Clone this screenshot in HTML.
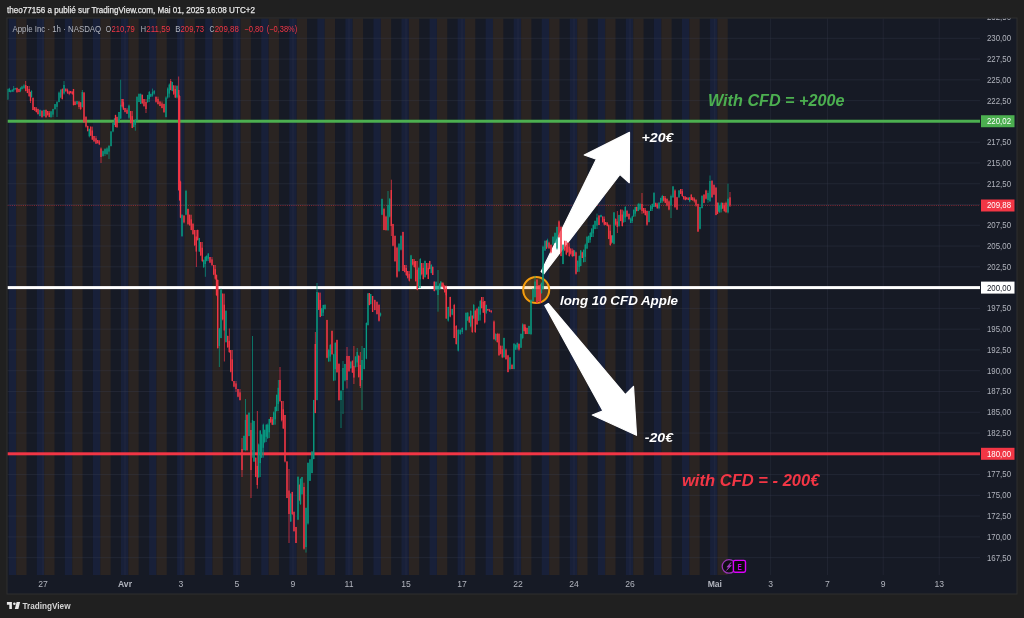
<!DOCTYPE html>
<html><head><meta charset="utf-8"><style>
html,body{margin:0;padding:0;background:#202020;width:1024px;height:618px;overflow:hidden}
svg{display:block}
text{font-family:"Liberation Sans",Arial,sans-serif}
.pa{font-size:8.6px;fill:#b2b5be}
.xa{font-size:8.6px;fill:#b2b5be}
.lg{font-size:8.8px}
.hd{font-size:8.6px;fill:#e6e6e6;stroke:#e6e6e6;stroke-width:0.25px}
.an{font-size:15.6px;font-weight:bold;font-style:italic}
.an2{font-size:12.8px;font-weight:bold;font-style:italic}
.tv{font-size:8.5px;fill:#d6d6d6;font-weight:bold}
.ic{font-size:9.6px;font-weight:bold}
</style></head><body>
<svg width="1024" height="618" viewBox="0 0 1024 618">
<rect width="1024" height="618" fill="#202020"/>
<text x="7" y="13.1" class="hd" textLength="248" lengthAdjust="spacingAndGlyphs">theo77156 a publié sur TradingView.com, Mai 01, 2025 16:08 UTC+2</text>
<rect x="7" y="18" width="1010" height="576" fill="#161a25"/><rect x="8.80" y="18.5" width="7.4" height="556.5" fill="#182039"/><rect x="16.20" y="18.5" width="10.3" height="556.5" fill="#2a2422"/><rect x="36.85" y="18.5" width="7.4" height="556.5" fill="#182039"/><rect x="44.25" y="18.5" width="10.3" height="556.5" fill="#2a2422"/><rect x="64.90" y="18.5" width="7.4" height="556.5" fill="#182039"/><rect x="72.30" y="18.5" width="10.3" height="556.5" fill="#2a2422"/><rect x="92.95" y="18.5" width="7.4" height="556.5" fill="#182039"/><rect x="100.35" y="18.5" width="10.3" height="556.5" fill="#2a2422"/><rect x="121.00" y="18.5" width="7.4" height="556.5" fill="#182039"/><rect x="128.40" y="18.5" width="10.3" height="556.5" fill="#2a2422"/><rect x="149.05" y="18.5" width="7.4" height="556.5" fill="#182039"/><rect x="156.45" y="18.5" width="10.3" height="556.5" fill="#2a2422"/><rect x="177.10" y="18.5" width="7.4" height="556.5" fill="#182039"/><rect x="184.50" y="18.5" width="10.3" height="556.5" fill="#2a2422"/><rect x="205.15" y="18.5" width="7.4" height="556.5" fill="#182039"/><rect x="212.55" y="18.5" width="10.3" height="556.5" fill="#2a2422"/><rect x="233.20" y="18.5" width="7.4" height="556.5" fill="#182039"/><rect x="240.60" y="18.5" width="10.3" height="556.5" fill="#2a2422"/><rect x="261.25" y="18.5" width="7.4" height="556.5" fill="#182039"/><rect x="268.65" y="18.5" width="10.3" height="556.5" fill="#2a2422"/><rect x="289.30" y="18.5" width="7.4" height="556.5" fill="#182039"/><rect x="296.70" y="18.5" width="10.3" height="556.5" fill="#2a2422"/><rect x="317.35" y="18.5" width="7.4" height="556.5" fill="#182039"/><rect x="324.75" y="18.5" width="10.3" height="556.5" fill="#2a2422"/><rect x="345.40" y="18.5" width="7.4" height="556.5" fill="#182039"/><rect x="352.80" y="18.5" width="10.3" height="556.5" fill="#2a2422"/><rect x="373.45" y="18.5" width="7.4" height="556.5" fill="#182039"/><rect x="380.85" y="18.5" width="10.3" height="556.5" fill="#2a2422"/><rect x="401.50" y="18.5" width="7.4" height="556.5" fill="#182039"/><rect x="408.90" y="18.5" width="10.3" height="556.5" fill="#2a2422"/><rect x="429.55" y="18.5" width="7.4" height="556.5" fill="#182039"/><rect x="436.95" y="18.5" width="10.3" height="556.5" fill="#2a2422"/><rect x="457.60" y="18.5" width="7.4" height="556.5" fill="#182039"/><rect x="465.00" y="18.5" width="10.3" height="556.5" fill="#2a2422"/><rect x="485.65" y="18.5" width="7.4" height="556.5" fill="#182039"/><rect x="493.05" y="18.5" width="10.3" height="556.5" fill="#2a2422"/><rect x="513.70" y="18.5" width="7.4" height="556.5" fill="#182039"/><rect x="521.10" y="18.5" width="10.3" height="556.5" fill="#2a2422"/><rect x="541.75" y="18.5" width="7.4" height="556.5" fill="#182039"/><rect x="549.15" y="18.5" width="10.3" height="556.5" fill="#2a2422"/><rect x="569.80" y="18.5" width="7.4" height="556.5" fill="#182039"/><rect x="577.20" y="18.5" width="10.3" height="556.5" fill="#2a2422"/><rect x="597.85" y="18.5" width="7.4" height="556.5" fill="#182039"/><rect x="605.25" y="18.5" width="10.3" height="556.5" fill="#2a2422"/><rect x="625.90" y="18.5" width="7.4" height="556.5" fill="#182039"/><rect x="633.30" y="18.5" width="10.3" height="556.5" fill="#2a2422"/><rect x="653.95" y="18.5" width="7.4" height="556.5" fill="#182039"/><rect x="661.35" y="18.5" width="10.3" height="556.5" fill="#2a2422"/><rect x="682.00" y="18.5" width="7.4" height="556.5" fill="#182039"/><rect x="689.40" y="18.5" width="10.3" height="556.5" fill="#2a2422"/><rect x="710.05" y="18.5" width="7.4" height="556.5" fill="#182039"/><rect x="717.45" y="18.5" width="10.3" height="556.5" fill="#2a2422"/><rect x="7.5" y="557.17" width="972.5" height="1" fill="rgba(60,66,84,0.32)"/><rect x="7.5" y="536.40" width="972.5" height="1" fill="rgba(60,66,84,0.32)"/><rect x="7.5" y="515.62" width="972.5" height="1" fill="rgba(60,66,84,0.32)"/><rect x="7.5" y="494.85" width="972.5" height="1" fill="rgba(60,66,84,0.32)"/><rect x="7.5" y="474.08" width="972.5" height="1" fill="rgba(60,66,84,0.32)"/><rect x="7.5" y="453.30" width="972.5" height="1" fill="rgba(60,66,84,0.32)"/><rect x="7.5" y="432.53" width="972.5" height="1" fill="rgba(60,66,84,0.32)"/><rect x="7.5" y="411.75" width="972.5" height="1" fill="rgba(60,66,84,0.32)"/><rect x="7.5" y="390.98" width="972.5" height="1" fill="rgba(60,66,84,0.32)"/><rect x="7.5" y="370.20" width="972.5" height="1" fill="rgba(60,66,84,0.32)"/><rect x="7.5" y="349.43" width="972.5" height="1" fill="rgba(60,66,84,0.32)"/><rect x="7.5" y="328.65" width="972.5" height="1" fill="rgba(60,66,84,0.32)"/><rect x="7.5" y="307.88" width="972.5" height="1" fill="rgba(60,66,84,0.32)"/><rect x="7.5" y="287.10" width="972.5" height="1" fill="rgba(60,66,84,0.32)"/><rect x="7.5" y="266.33" width="972.5" height="1" fill="rgba(60,66,84,0.32)"/><rect x="7.5" y="245.55" width="972.5" height="1" fill="rgba(60,66,84,0.32)"/><rect x="7.5" y="224.78" width="972.5" height="1" fill="rgba(60,66,84,0.32)"/><rect x="7.5" y="204.00" width="972.5" height="1" fill="rgba(60,66,84,0.32)"/><rect x="7.5" y="183.23" width="972.5" height="1" fill="rgba(60,66,84,0.32)"/><rect x="7.5" y="162.45" width="972.5" height="1" fill="rgba(60,66,84,0.32)"/><rect x="7.5" y="141.68" width="972.5" height="1" fill="rgba(60,66,84,0.32)"/><rect x="7.5" y="120.90" width="972.5" height="1" fill="rgba(60,66,84,0.32)"/><rect x="7.5" y="100.12" width="972.5" height="1" fill="rgba(60,66,84,0.32)"/><rect x="7.5" y="79.35" width="972.5" height="1" fill="rgba(60,66,84,0.32)"/><rect x="7.5" y="58.58" width="972.5" height="1" fill="rgba(60,66,84,0.32)"/><rect x="7.5" y="37.80" width="972.5" height="1" fill="rgba(60,66,84,0.32)"/><rect x="42.50" y="18.5" width="1" height="556.5" fill="rgba(60,66,84,0.32)" opacity="0.8"/><rect x="124.50" y="18.5" width="1" height="556.5" fill="rgba(60,66,84,0.32)" opacity="0.8"/><rect x="180.50" y="18.5" width="1" height="556.5" fill="rgba(60,66,84,0.32)" opacity="0.8"/><rect x="236.50" y="18.5" width="1" height="556.5" fill="rgba(60,66,84,0.32)" opacity="0.8"/><rect x="292.50" y="18.5" width="1" height="556.5" fill="rgba(60,66,84,0.32)" opacity="0.8"/><rect x="348.50" y="18.5" width="1" height="556.5" fill="rgba(60,66,84,0.32)" opacity="0.8"/><rect x="405.50" y="18.5" width="1" height="556.5" fill="rgba(60,66,84,0.32)" opacity="0.8"/><rect x="461.50" y="18.5" width="1" height="556.5" fill="rgba(60,66,84,0.32)" opacity="0.8"/><rect x="517.50" y="18.5" width="1" height="556.5" fill="rgba(60,66,84,0.32)" opacity="0.8"/><rect x="573.50" y="18.5" width="1" height="556.5" fill="rgba(60,66,84,0.32)" opacity="0.8"/><rect x="629.50" y="18.5" width="1" height="556.5" fill="rgba(60,66,84,0.32)" opacity="0.8"/><rect x="714.30" y="18.5" width="1" height="556.5" fill="rgba(60,66,84,0.32)" opacity="0.8"/><rect x="770.10" y="18.5" width="1" height="556.5" fill="rgba(60,66,84,0.32)" opacity="0.8"/><rect x="827.00" y="18.5" width="1" height="556.5" fill="rgba(60,66,84,0.32)" opacity="0.8"/><rect x="882.70" y="18.5" width="1" height="556.5" fill="rgba(60,66,84,0.32)" opacity="0.8"/><rect x="938.70" y="18.5" width="1" height="556.5" fill="rgba(60,66,84,0.32)" opacity="0.8"/><rect x="7.5" y="119.73" width="972.5" height="3" fill="#4caf50"/><rect x="7.5" y="286.10" width="972.5" height="3" fill="#ffffff"/><rect x="7.5" y="452.30" width="972.5" height="3" fill="#f23645"/><line x1="7.5" y1="205.50" x2="980" y2="205.50" stroke="#f23645" stroke-width="1" stroke-dasharray="1 1.2" opacity="0.5"/><circle cx="536.2" cy="290" r="13" fill="rgba(255,152,0,0.22)" stroke="#f59d0e" stroke-width="2"/><path d="M541.2 271.6 L596.3 159.2 L584.2 155 L629.5 132.4 L629.3 182.7 L620 174.5 L543.8 273.8 Z" fill="#fff" stroke="#fff" stroke-width="1.2" stroke-linejoin="round"/><path d="M544.8 305.5 L603 410.9 L592.3 415 L636.5 435.3 L633.5 386.3 L625.3 394.6 L548.3 303.5 Z" fill="#fff" stroke="#fff" stroke-width="1.2" stroke-linejoin="round"/><rect x="7.40" y="88.61" width="0.7" height="11.17" fill="#089981"/><rect x="7.08" y="89.00" width="1.35" height="10.60" fill="#089981"/><rect x="8.90" y="87.82" width="0.7" height="4.27" fill="#089981"/><rect x="8.57" y="88.60" width="1.35" height="3.40" fill="#089981"/><rect x="10.40" y="89.96" width="0.7" height="2.48" fill="#089981"/><rect x="10.07" y="90.60" width="1.35" height="1.40" fill="#089981"/><rect x="11.90" y="89.53" width="0.7" height="2.48" fill="#089981"/><rect x="11.57" y="89.60" width="1.35" height="1.80" fill="#089981"/><rect x="13.40" y="86.00" width="0.7" height="6.00" fill="#089981"/><rect x="13.07" y="88.60" width="1.35" height="1.80" fill="#089981"/><rect x="14.90" y="87.92" width="0.7" height="1.59" fill="#089981"/><rect x="14.57" y="88.00" width="1.35" height="1.40" fill="#089981"/><rect x="16.65" y="87.49" width="0.7" height="5.50" fill="#f23645"/><rect x="16.32" y="88.00" width="1.35" height="4.00" fill="#f23645"/><rect x="18.65" y="88.85" width="0.7" height="3.42" fill="#f23645"/><rect x="18.32" y="89.00" width="1.35" height="3.00" fill="#f23645"/><rect x="20.15" y="87.25" width="0.7" height="4.89" fill="#089981"/><rect x="19.82" y="88.00" width="1.35" height="3.00" fill="#089981"/><rect x="21.65" y="85.79" width="0.7" height="3.69" fill="#089981"/><rect x="21.32" y="86.48" width="1.35" height="2.52" fill="#089981"/><rect x="23.65" y="84.23" width="0.7" height="4.77" fill="#089981"/><rect x="23.32" y="85.40" width="1.35" height="2.52" fill="#089981"/><rect x="25.40" y="81.00" width="0.7" height="10.35" fill="#f23645"/><rect x="25.07" y="85.00" width="1.35" height="6.00" fill="#f23645"/><rect x="27.02" y="86.00" width="0.7" height="7.14" fill="#f23645"/><rect x="26.70" y="86.00" width="1.35" height="7.00" fill="#f23645"/><rect x="28.77" y="86.00" width="0.7" height="10.98" fill="#f23645"/><rect x="28.45" y="89.00" width="1.35" height="7.00" fill="#f23645"/><rect x="30.15" y="91.78" width="0.7" height="11.22" fill="#f23645"/><rect x="29.82" y="92.00" width="1.35" height="9.00" fill="#f23645"/><rect x="31.15" y="90.23" width="0.7" height="7.21" fill="#089981"/><rect x="30.82" y="91.00" width="1.35" height="6.00" fill="#089981"/><rect x="32.65" y="97.34" width="0.7" height="12.73" fill="#f23645"/><rect x="32.33" y="98.00" width="1.35" height="12.00" fill="#f23645"/><rect x="34.40" y="107.00" width="0.7" height="3.75" fill="#f23645"/><rect x="34.08" y="107.00" width="1.35" height="3.50" fill="#f23645"/><rect x="35.90" y="107.00" width="0.7" height="5.51" fill="#f23645"/><rect x="35.58" y="108.50" width="1.35" height="3.50" fill="#f23645"/><rect x="37.65" y="108.62" width="0.7" height="6.08" fill="#f23645"/><rect x="37.33" y="109.00" width="1.35" height="5.00" fill="#f23645"/><rect x="39.65" y="109.46" width="0.7" height="6.90" fill="#089981"/><rect x="39.33" y="110.00" width="1.35" height="6.00" fill="#089981"/><rect x="41.65" y="110.05" width="0.7" height="7.79" fill="#f23645"/><rect x="41.33" y="111.00" width="1.35" height="6.00" fill="#f23645"/><rect x="43.65" y="109.71" width="0.7" height="6.98" fill="#089981"/><rect x="43.33" y="110.00" width="1.35" height="6.00" fill="#089981"/><rect x="45.65" y="109.37" width="0.7" height="8.68" fill="#f23645"/><rect x="45.33" y="110.00" width="1.35" height="7.00" fill="#f23645"/><rect x="47.40" y="111.00" width="0.7" height="4.55" fill="#f23645"/><rect x="47.08" y="111.00" width="1.35" height="4.20" fill="#f23645"/><rect x="48.90" y="111.00" width="0.7" height="6.14" fill="#f23645"/><rect x="48.58" y="112.80" width="1.35" height="4.20" fill="#f23645"/><rect x="50.65" y="110.90" width="0.7" height="7.01" fill="#089981"/><rect x="50.33" y="111.40" width="1.35" height="5.60" fill="#089981"/><rect x="52.65" y="108.82" width="0.7" height="8.18" fill="#089981"/><rect x="52.33" y="109.00" width="1.35" height="5.60" fill="#089981"/><rect x="54.65" y="104.05" width="0.7" height="5.75" fill="#089981"/><rect x="54.33" y="104.10" width="1.35" height="4.90" fill="#089981"/><rect x="56.65" y="101.08" width="0.7" height="15.92" fill="#089981"/><rect x="56.33" y="102.00" width="1.35" height="4.90" fill="#089981"/><rect x="58.65" y="91.55" width="0.7" height="10.83" fill="#089981"/><rect x="58.33" y="92.60" width="1.35" height="9.40" fill="#089981"/><rect x="60.40" y="89.17" width="0.7" height="9.05" fill="#089981"/><rect x="60.08" y="90.00" width="1.35" height="7.50" fill="#089981"/><rect x="61.90" y="88.30" width="0.7" height="11.24" fill="#f23645"/><rect x="61.58" y="89.00" width="1.35" height="10.00" fill="#f23645"/><rect x="63.65" y="81.00" width="0.7" height="13.63" fill="#089981"/><rect x="63.33" y="85.00" width="1.35" height="8.50" fill="#089981"/><rect x="65.48" y="88.60" width="0.7" height="3.32" fill="#f23645"/><rect x="65.16" y="88.60" width="1.35" height="2.52" fill="#f23645"/><rect x="67.15" y="88.60" width="0.7" height="5.40" fill="#f23645"/><rect x="66.83" y="89.68" width="1.35" height="3.24" fill="#f23645"/><rect x="68.82" y="90.70" width="0.7" height="4.49" fill="#f23645"/><rect x="68.49" y="91.48" width="1.35" height="2.52" fill="#f23645"/><rect x="70.40" y="91.00" width="0.7" height="2.44" fill="#f23645"/><rect x="70.08" y="91.00" width="1.35" height="2.10" fill="#f23645"/><rect x="71.90" y="91.00" width="0.7" height="3.80" fill="#f23645"/><rect x="71.58" y="91.90" width="1.35" height="2.10" fill="#f23645"/><rect x="73.15" y="88.97" width="0.7" height="16.58" fill="#f23645"/><rect x="72.83" y="89.00" width="1.35" height="16.00" fill="#f23645"/><rect x="74.65" y="101.30" width="0.7" height="3.84" fill="#f23645"/><rect x="74.33" y="101.50" width="1.35" height="3.50" fill="#f23645"/><rect x="76.65" y="100.93" width="0.7" height="3.99" fill="#089981"/><rect x="76.33" y="101.00" width="1.35" height="3.00" fill="#089981"/><rect x="78.65" y="101.34" width="0.7" height="7.66" fill="#f23645"/><rect x="78.33" y="101.50" width="1.35" height="5.50" fill="#f23645"/><rect x="80.40" y="101.93" width="0.7" height="8.11" fill="#f23645"/><rect x="80.08" y="102.40" width="1.35" height="6.60" fill="#f23645"/><rect x="81.90" y="90.00" width="0.7" height="17.54" fill="#089981"/><rect x="81.58" y="92.00" width="1.35" height="15.00" fill="#089981"/><rect x="83.65" y="91.94" width="0.7" height="31.12" fill="#f23645"/><rect x="83.33" y="92.60" width="1.35" height="29.40" fill="#f23645"/><rect x="85.65" y="116.02" width="0.7" height="11.62" fill="#f23645"/><rect x="85.33" y="117.00" width="1.35" height="9.60" fill="#f23645"/><rect x="87.40" y="125.67" width="0.7" height="5.83" fill="#f23645"/><rect x="87.08" y="126.00" width="1.35" height="5.00" fill="#f23645"/><rect x="88.90" y="128.57" width="0.7" height="8.79" fill="#089981"/><rect x="88.58" y="129.00" width="1.35" height="7.30" fill="#089981"/><rect x="90.40" y="126.60" width="0.7" height="9.28" fill="#f23645"/><rect x="90.08" y="126.60" width="1.35" height="9.10" fill="#f23645"/><rect x="91.90" y="126.60" width="0.7" height="13.28" fill="#f23645"/><rect x="91.58" y="130.50" width="1.35" height="9.10" fill="#f23645"/><rect x="93.65" y="136.00" width="0.7" height="5.90" fill="#f23645"/><rect x="93.33" y="136.00" width="1.35" height="5.32" fill="#f23645"/><rect x="95.65" y="136.00" width="0.7" height="7.92" fill="#f23645"/><rect x="95.33" y="138.28" width="1.35" height="5.32" fill="#f23645"/><rect x="97.40" y="140.00" width="0.7" height="3.58" fill="#f23645"/><rect x="97.08" y="140.00" width="1.35" height="3.08" fill="#f23645"/><rect x="98.90" y="140.00" width="0.7" height="5.08" fill="#f23645"/><rect x="98.58" y="141.32" width="1.35" height="3.08" fill="#f23645"/><rect x="100.65" y="147.36" width="0.7" height="15.64" fill="#f23645"/><rect x="100.33" y="148.50" width="1.35" height="8.50" fill="#f23645"/><rect x="102.65" y="150.48" width="0.7" height="6.26" fill="#089981"/><rect x="102.33" y="151.10" width="1.35" height="4.90" fill="#089981"/><rect x="104.65" y="148.19" width="0.7" height="7.81" fill="#089981"/><rect x="104.33" y="149.00" width="1.35" height="4.90" fill="#089981"/><rect x="106.65" y="147.32" width="0.7" height="7.62" fill="#089981"/><rect x="106.33" y="148.40" width="1.35" height="5.60" fill="#089981"/><rect x="108.65" y="144.95" width="0.7" height="14.05" fill="#089981"/><rect x="108.33" y="146.00" width="1.35" height="5.60" fill="#089981"/><rect x="110.65" y="131.03" width="0.7" height="15.45" fill="#089981"/><rect x="110.33" y="131.50" width="1.35" height="14.50" fill="#089981"/><rect x="112.65" y="122.88" width="0.7" height="9.39" fill="#089981"/><rect x="112.33" y="123.00" width="1.35" height="8.50" fill="#089981"/><rect x="114.15" y="118.43" width="0.7" height="6.66" fill="#089981"/><rect x="113.83" y="118.50" width="1.35" height="6.50" fill="#089981"/><rect x="115.15" y="114.75" width="0.7" height="12.45" fill="#f23645"/><rect x="114.83" y="115.00" width="1.35" height="12.00" fill="#f23645"/><rect x="116.65" y="116.59" width="0.7" height="10.87" fill="#f23645"/><rect x="116.33" y="117.00" width="1.35" height="10.40" fill="#f23645"/><rect x="118.65" y="112.00" width="0.7" height="10.18" fill="#089981"/><rect x="118.33" y="112.00" width="1.35" height="10.00" fill="#089981"/><rect x="120.40" y="79.70" width="0.7" height="39.24" fill="#089981"/><rect x="120.08" y="104.80" width="1.35" height="13.70" fill="#089981"/><rect x="121.78" y="99.00" width="0.7" height="8.47" fill="#f23645"/><rect x="121.45" y="99.00" width="1.35" height="7.42" fill="#f23645"/><rect x="123.03" y="99.00" width="0.7" height="10.78" fill="#f23645"/><rect x="122.70" y="102.18" width="1.35" height="7.42" fill="#f23645"/><rect x="124.65" y="108.00" width="0.7" height="4.41" fill="#f23645"/><rect x="124.33" y="108.00" width="1.35" height="3.99" fill="#f23645"/><rect x="126.65" y="108.00" width="0.7" height="5.85" fill="#f23645"/><rect x="126.33" y="109.71" width="1.35" height="3.99" fill="#f23645"/><rect x="128.65" y="104.58" width="0.7" height="14.31" fill="#089981"/><rect x="128.32" y="105.60" width="1.35" height="12.10" fill="#089981"/><rect x="130.40" y="111.00" width="0.7" height="12.48" fill="#f23645"/><rect x="130.07" y="111.00" width="1.35" height="11.90" fill="#f23645"/><rect x="131.90" y="111.00" width="0.7" height="17.12" fill="#f23645"/><rect x="131.57" y="116.10" width="1.35" height="11.90" fill="#f23645"/><rect x="133.40" y="121.69" width="0.7" height="5.63" fill="#089981"/><rect x="133.07" y="122.10" width="1.35" height="4.90" fill="#089981"/><rect x="134.90" y="119.01" width="0.7" height="11.69" fill="#089981"/><rect x="134.57" y="120.00" width="1.35" height="4.90" fill="#089981"/><rect x="136.65" y="96.67" width="0.7" height="24.47" fill="#089981"/><rect x="136.32" y="96.70" width="1.35" height="23.30" fill="#089981"/><rect x="138.65" y="93.37" width="0.7" height="8.81" fill="#089981"/><rect x="138.32" y="94.00" width="1.35" height="8.00" fill="#089981"/><rect x="140.40" y="93.35" width="0.7" height="10.68" fill="#089981"/><rect x="140.07" y="94.00" width="1.35" height="10.00" fill="#089981"/><rect x="141.90" y="94.37" width="0.7" height="9.81" fill="#f23645"/><rect x="141.57" y="95.00" width="1.35" height="8.00" fill="#f23645"/><rect x="143.65" y="99.00" width="0.7" height="7.84" fill="#f23645"/><rect x="143.32" y="99.00" width="1.35" height="7.00" fill="#f23645"/><rect x="145.65" y="99.00" width="0.7" height="14.00" fill="#f23645"/><rect x="145.32" y="102.00" width="1.35" height="7.00" fill="#f23645"/><rect x="147.40" y="94.80" width="0.7" height="8.13" fill="#089981"/><rect x="147.07" y="95.00" width="1.35" height="7.00" fill="#089981"/><rect x="148.90" y="91.00" width="0.7" height="11.00" fill="#089981"/><rect x="148.57" y="92.00" width="1.35" height="7.00" fill="#089981"/><rect x="150.48" y="93.64" width="0.7" height="3.32" fill="#089981"/><rect x="150.16" y="94.04" width="1.35" height="2.66" fill="#089981"/><rect x="152.15" y="88.60" width="0.7" height="8.14" fill="#089981"/><rect x="151.82" y="92.14" width="1.35" height="3.42" fill="#089981"/><rect x="153.82" y="89.98" width="0.7" height="4.65" fill="#089981"/><rect x="153.49" y="91.00" width="1.35" height="2.66" fill="#089981"/><rect x="155.65" y="96.70" width="0.7" height="6.00" fill="#f23645"/><rect x="155.32" y="96.70" width="1.35" height="5.11" fill="#f23645"/><rect x="157.65" y="96.70" width="0.7" height="7.92" fill="#f23645"/><rect x="157.32" y="98.89" width="1.35" height="5.11" fill="#f23645"/><rect x="159.65" y="101.50" width="0.7" height="4.58" fill="#f23645"/><rect x="159.32" y="101.50" width="1.35" height="4.55" fill="#f23645"/><rect x="161.65" y="101.50" width="0.7" height="6.84" fill="#f23645"/><rect x="161.32" y="103.45" width="1.35" height="4.55" fill="#f23645"/><rect x="163.65" y="103.69" width="0.7" height="9.31" fill="#f23645"/><rect x="163.32" y="104.00" width="1.35" height="8.00" fill="#f23645"/><rect x="165.65" y="96.35" width="0.7" height="21.18" fill="#089981"/><rect x="165.32" y="97.50" width="1.35" height="19.50" fill="#089981"/><rect x="167.40" y="87.35" width="0.7" height="11.34" fill="#089981"/><rect x="167.07" y="88.47" width="1.35" height="9.03" fill="#089981"/><rect x="168.90" y="83.45" width="0.7" height="14.05" fill="#089981"/><rect x="168.57" y="84.60" width="1.35" height="9.03" fill="#089981"/><rect x="170.40" y="79.00" width="0.7" height="11.27" fill="#f23645"/><rect x="170.07" y="81.00" width="1.35" height="9.00" fill="#f23645"/><rect x="171.90" y="81.76" width="0.7" height="9.48" fill="#089981"/><rect x="171.57" y="82.00" width="1.35" height="9.00" fill="#089981"/><rect x="173.40" y="85.40" width="0.7" height="9.55" fill="#f23645"/><rect x="173.07" y="85.40" width="1.35" height="8.47" fill="#f23645"/><rect x="174.90" y="85.40" width="0.7" height="12.68" fill="#f23645"/><rect x="174.57" y="89.03" width="1.35" height="8.47" fill="#f23645"/><rect x="176.65" y="85.22" width="0.7" height="13.24" fill="#089981"/><rect x="176.32" y="86.00" width="1.35" height="11.50" fill="#089981"/><rect x="178.40" y="76.50" width="0.7" height="114.29" fill="#f23645"/><rect x="178.07" y="90.00" width="1.35" height="100.00" fill="#f23645"/><rect x="179.30" y="94.91" width="0.7" height="106.03" fill="#f23645"/><rect x="178.97" y="96.00" width="1.35" height="104.00" fill="#f23645"/><rect x="180.15" y="180.70" width="0.7" height="37.47" fill="#f23645"/><rect x="179.82" y="181.60" width="1.35" height="36.00" fill="#f23645"/><rect x="181.65" y="214.49" width="0.7" height="22.46" fill="#089981"/><rect x="181.32" y="214.70" width="1.35" height="21.30" fill="#089981"/><rect x="183.65" y="215.20" width="0.7" height="8.16" fill="#f23645"/><rect x="183.32" y="215.60" width="1.35" height="6.80" fill="#f23645"/><rect x="185.65" y="189.83" width="0.7" height="25.34" fill="#089981"/><rect x="185.32" y="191.00" width="1.35" height="23.70" fill="#089981"/><rect x="187.65" y="208.52" width="0.7" height="16.62" fill="#f23645"/><rect x="187.32" y="209.00" width="1.35" height="15.00" fill="#f23645"/><rect x="189.40" y="214.70" width="0.7" height="10.91" fill="#f23645"/><rect x="189.07" y="214.70" width="1.35" height="10.71" fill="#f23645"/><rect x="190.90" y="214.70" width="0.7" height="15.48" fill="#f23645"/><rect x="190.57" y="219.29" width="1.35" height="10.71" fill="#f23645"/><rect x="192.65" y="222.91" width="0.7" height="12.05" fill="#f23645"/><rect x="192.32" y="224.00" width="1.35" height="10.00" fill="#f23645"/><rect x="194.40" y="230.00" width="0.7" height="16.11" fill="#f23645"/><rect x="194.07" y="230.00" width="1.35" height="15.12" fill="#f23645"/><rect x="195.90" y="230.00" width="0.7" height="37.00" fill="#f23645"/><rect x="195.57" y="236.48" width="1.35" height="15.12" fill="#f23645"/><rect x="197.40" y="229.58" width="0.7" height="11.08" fill="#f23645"/><rect x="197.07" y="230.00" width="1.35" height="10.00" fill="#f23645"/><rect x="198.90" y="237.84" width="0.7" height="13.77" fill="#089981"/><rect x="198.57" y="238.00" width="1.35" height="13.60" fill="#089981"/><rect x="200.40" y="242.00" width="0.7" height="14.08" fill="#f23645"/><rect x="200.07" y="242.00" width="1.35" height="13.30" fill="#f23645"/><rect x="201.90" y="242.00" width="0.7" height="20.12" fill="#f23645"/><rect x="201.57" y="247.70" width="1.35" height="13.30" fill="#f23645"/><rect x="203.40" y="259.48" width="0.7" height="8.57" fill="#089981"/><rect x="203.07" y="260.00" width="1.35" height="7.00" fill="#089981"/><rect x="204.90" y="256.01" width="0.7" height="20.79" fill="#089981"/><rect x="204.57" y="257.00" width="1.35" height="7.00" fill="#089981"/><rect x="206.40" y="255.45" width="0.7" height="5.90" fill="#089981"/><rect x="206.07" y="255.75" width="1.35" height="5.25" fill="#089981"/><rect x="207.90" y="253.21" width="0.7" height="7.79" fill="#089981"/><rect x="207.57" y="253.50" width="1.35" height="5.25" fill="#089981"/><rect x="209.65" y="257.00" width="0.7" height="6.10" fill="#f23645"/><rect x="209.32" y="257.00" width="1.35" height="5.60" fill="#f23645"/><rect x="211.65" y="257.00" width="0.7" height="9.09" fill="#f23645"/><rect x="211.32" y="259.40" width="1.35" height="5.60" fill="#f23645"/><rect x="213.40" y="265.00" width="0.7" height="10.14" fill="#f23645"/><rect x="213.07" y="265.00" width="1.35" height="9.59" fill="#f23645"/><rect x="214.90" y="265.00" width="0.7" height="14.79" fill="#f23645"/><rect x="214.57" y="269.11" width="1.35" height="9.59" fill="#f23645"/><rect x="216.15" y="274.50" width="0.7" height="21.61" fill="#f23645"/><rect x="215.82" y="275.00" width="1.35" height="20.00" fill="#f23645"/><rect x="217.40" y="279.40" width="0.7" height="69.24" fill="#f23645"/><rect x="217.07" y="280.00" width="1.35" height="68.00" fill="#f23645"/><rect x="218.90" y="327.87" width="0.7" height="39.13" fill="#089981"/><rect x="218.57" y="328.50" width="1.35" height="17.50" fill="#089981"/><rect x="220.65" y="288.70" width="0.7" height="49.52" fill="#089981"/><rect x="220.32" y="289.70" width="1.35" height="48.30" fill="#089981"/><rect x="222.40" y="293.60" width="0.7" height="26.79" fill="#f23645"/><rect x="222.07" y="293.60" width="1.35" height="25.83" fill="#f23645"/><rect x="223.90" y="293.60" width="0.7" height="67.90" fill="#f23645"/><rect x="223.57" y="304.67" width="1.35" height="25.83" fill="#f23645"/><rect x="225.65" y="310.13" width="0.7" height="32.54" fill="#089981"/><rect x="225.32" y="311.00" width="1.35" height="31.00" fill="#089981"/><rect x="227.40" y="335.61" width="0.7" height="12.21" fill="#f23645"/><rect x="227.07" y="336.00" width="1.35" height="11.20" fill="#f23645"/><rect x="228.90" y="328.50" width="0.7" height="24.44" fill="#f23645"/><rect x="228.57" y="340.80" width="1.35" height="11.20" fill="#f23645"/><rect x="230.40" y="350.00" width="0.7" height="22.37" fill="#f23645"/><rect x="230.07" y="350.00" width="1.35" height="21.70" fill="#f23645"/><rect x="231.90" y="350.00" width="0.7" height="31.33" fill="#f23645"/><rect x="231.57" y="359.30" width="1.35" height="21.70" fill="#f23645"/><rect x="233.65" y="381.00" width="0.7" height="6.21" fill="#f23645"/><rect x="233.32" y="381.00" width="1.35" height="5.60" fill="#f23645"/><rect x="235.65" y="381.00" width="0.7" height="11.00" fill="#f23645"/><rect x="235.32" y="383.40" width="1.35" height="5.60" fill="#f23645"/><rect x="237.65" y="389.00" width="0.7" height="8.23" fill="#f23645"/><rect x="237.32" y="389.00" width="1.35" height="7.70" fill="#f23645"/><rect x="239.65" y="389.00" width="0.7" height="11.61" fill="#f23645"/><rect x="239.32" y="392.30" width="1.35" height="7.70" fill="#f23645"/><rect x="241.65" y="438.00" width="0.7" height="39.00" fill="#f23645"/><rect x="241.32" y="449.00" width="1.35" height="21.00" fill="#f23645"/><rect x="243.65" y="435.46" width="0.7" height="15.18" fill="#089981"/><rect x="243.32" y="436.00" width="1.35" height="14.00" fill="#089981"/><rect x="245.15" y="399.00" width="0.7" height="52.13" fill="#089981"/><rect x="244.82" y="420.00" width="1.35" height="30.00" fill="#089981"/><rect x="246.65" y="414.16" width="0.7" height="36.89" fill="#f23645"/><rect x="246.32" y="415.00" width="1.35" height="35.00" fill="#f23645"/><rect x="248.65" y="411.87" width="0.7" height="24.44" fill="#089981"/><rect x="248.32" y="413.00" width="1.35" height="23.00" fill="#089981"/><rect x="250.65" y="422.70" width="0.7" height="75.30" fill="#f23645"/><rect x="250.32" y="430.00" width="1.35" height="40.00" fill="#f23645"/><rect x="252.15" y="336.00" width="0.7" height="121.70" fill="#089981"/><rect x="251.82" y="420.00" width="1.35" height="30.00" fill="#089981"/><rect x="253.65" y="420.85" width="0.7" height="41.18" fill="#089981"/><rect x="253.32" y="421.00" width="1.35" height="40.50" fill="#089981"/><rect x="255.40" y="457.61" width="0.7" height="19.49" fill="#f23645"/><rect x="255.07" y="457.70" width="1.35" height="19.11" fill="#f23645"/><rect x="256.90" y="411.00" width="0.7" height="77.70" fill="#f23645"/><rect x="256.57" y="465.89" width="1.35" height="19.11" fill="#f23645"/><rect x="258.40" y="443.51" width="0.7" height="34.57" fill="#089981"/><rect x="258.07" y="444.45" width="1.35" height="32.55" fill="#089981"/><rect x="259.90" y="430.31" width="0.7" height="46.69" fill="#089981"/><rect x="259.57" y="430.50" width="1.35" height="32.55" fill="#089981"/><rect x="261.40" y="433.81" width="0.7" height="24.06" fill="#089981"/><rect x="261.07" y="434.60" width="1.35" height="23.10" fill="#089981"/><rect x="262.90" y="423.64" width="0.7" height="34.06" fill="#089981"/><rect x="262.57" y="424.70" width="1.35" height="23.10" fill="#089981"/><rect x="264.40" y="429.63" width="0.7" height="13.52" fill="#089981"/><rect x="264.07" y="429.89" width="1.35" height="12.11" fill="#089981"/><rect x="265.90" y="424.22" width="0.7" height="17.78" fill="#089981"/><rect x="265.57" y="424.70" width="1.35" height="12.11" fill="#089981"/><rect x="267.40" y="423.51" width="0.7" height="15.49" fill="#089981"/><rect x="267.07" y="424.70" width="1.35" height="13.30" fill="#089981"/><rect x="268.90" y="418.81" width="0.7" height="19.19" fill="#089981"/><rect x="268.57" y="419.00" width="1.35" height="13.30" fill="#089981"/><rect x="270.40" y="417.00" width="0.7" height="5.80" fill="#f23645"/><rect x="270.07" y="417.00" width="1.35" height="5.39" fill="#f23645"/><rect x="271.90" y="417.00" width="0.7" height="8.08" fill="#f23645"/><rect x="271.57" y="419.31" width="1.35" height="5.39" fill="#f23645"/><rect x="273.40" y="411.44" width="0.7" height="13.28" fill="#089981"/><rect x="273.07" y="412.31" width="1.35" height="12.39" fill="#089981"/><rect x="274.90" y="406.34" width="0.7" height="18.36" fill="#089981"/><rect x="274.57" y="407.00" width="1.35" height="12.39" fill="#089981"/><rect x="276.40" y="394.74" width="0.7" height="16.66" fill="#089981"/><rect x="276.07" y="394.76" width="1.35" height="16.24" fill="#089981"/><rect x="277.90" y="380.00" width="0.7" height="31.00" fill="#089981"/><rect x="277.57" y="387.80" width="1.35" height="16.24" fill="#089981"/><rect x="279.65" y="367.00" width="0.7" height="35.18" fill="#f23645"/><rect x="279.32" y="380.00" width="1.35" height="21.00" fill="#f23645"/><rect x="281.40" y="401.00" width="0.7" height="20.42" fill="#f23645"/><rect x="281.07" y="401.00" width="1.35" height="19.25" fill="#f23645"/><rect x="282.90" y="401.00" width="0.7" height="27.82" fill="#f23645"/><rect x="282.57" y="409.25" width="1.35" height="19.25" fill="#f23645"/><rect x="284.65" y="414.95" width="0.7" height="47.48" fill="#f23645"/><rect x="284.32" y="415.00" width="1.35" height="46.50" fill="#f23645"/><rect x="286.65" y="461.18" width="0.7" height="36.98" fill="#f23645"/><rect x="286.32" y="461.50" width="1.35" height="36.50" fill="#f23645"/><rect x="288.65" y="469.00" width="0.7" height="74.00" fill="#f23645"/><rect x="288.32" y="490.50" width="1.35" height="23.50" fill="#f23645"/><rect x="290.40" y="493.02" width="0.7" height="28.79" fill="#089981"/><rect x="290.07" y="494.00" width="1.35" height="27.50" fill="#089981"/><rect x="291.90" y="491.82" width="0.7" height="23.28" fill="#f23645"/><rect x="291.57" y="492.00" width="1.35" height="22.00" fill="#f23645"/><rect x="293.65" y="511.32" width="0.7" height="20.53" fill="#f23645"/><rect x="293.32" y="512.00" width="1.35" height="19.00" fill="#f23645"/><rect x="295.65" y="526.89" width="0.7" height="16.18" fill="#f23645"/><rect x="295.32" y="527.00" width="1.35" height="16.00" fill="#f23645"/><rect x="297.65" y="476.17" width="0.7" height="43.94" fill="#089981"/><rect x="297.32" y="477.00" width="1.35" height="42.60" fill="#089981"/><rect x="299.15" y="484.61" width="0.7" height="16.51" fill="#f23645"/><rect x="298.82" y="484.70" width="1.35" height="15.30" fill="#f23645"/><rect x="300.15" y="478.24" width="0.7" height="26.72" fill="#089981"/><rect x="299.82" y="479.00" width="1.35" height="25.00" fill="#089981"/><rect x="301.65" y="476.90" width="0.7" height="18.13" fill="#089981"/><rect x="301.32" y="477.00" width="1.35" height="17.00" fill="#089981"/><rect x="303.65" y="482.70" width="0.7" height="67.04" fill="#f23645"/><rect x="303.32" y="487.00" width="1.35" height="61.70" fill="#f23645"/><rect x="305.65" y="507.46" width="0.7" height="45.14" fill="#089981"/><rect x="305.32" y="508.00" width="1.35" height="39.00" fill="#089981"/><rect x="307.65" y="462.34" width="0.7" height="62.28" fill="#089981"/><rect x="307.32" y="463.00" width="1.35" height="60.50" fill="#089981"/><rect x="309.65" y="459.08" width="0.7" height="21.88" fill="#089981"/><rect x="309.32" y="459.40" width="1.35" height="21.40" fill="#089981"/><rect x="311.65" y="450.97" width="0.7" height="22.32" fill="#089981"/><rect x="311.32" y="451.60" width="1.35" height="21.40" fill="#089981"/><rect x="313.40" y="399.87" width="0.7" height="59.33" fill="#089981"/><rect x="313.07" y="400.00" width="1.35" height="59.00" fill="#089981"/><rect x="314.90" y="332.00" width="0.7" height="81.24" fill="#f23645"/><rect x="314.57" y="344.00" width="1.35" height="69.00" fill="#f23645"/><rect x="316.65" y="283.00" width="0.7" height="117.37" fill="#089981"/><rect x="316.32" y="292.00" width="1.35" height="108.00" fill="#089981"/><rect x="318.40" y="292.60" width="0.7" height="17.43" fill="#f23645"/><rect x="318.07" y="292.60" width="1.35" height="17.08" fill="#f23645"/><rect x="319.90" y="292.60" width="0.7" height="24.61" fill="#f23645"/><rect x="319.57" y="299.92" width="1.35" height="17.08" fill="#f23645"/><rect x="321.40" y="307.88" width="0.7" height="8.14" fill="#089981"/><rect x="321.07" y="308.30" width="1.35" height="7.70" fill="#089981"/><rect x="322.90" y="304.70" width="0.7" height="11.30" fill="#089981"/><rect x="322.57" y="305.00" width="1.35" height="7.70" fill="#089981"/><rect x="324.65" y="304.12" width="0.7" height="5.54" fill="#089981"/><rect x="324.32" y="305.00" width="1.35" height="4.00" fill="#089981"/><rect x="326.65" y="319.77" width="0.7" height="38.50" fill="#f23645"/><rect x="326.32" y="320.00" width="1.35" height="37.70" fill="#f23645"/><rect x="328.40" y="348.83" width="0.7" height="12.80" fill="#089981"/><rect x="328.07" y="349.95" width="1.35" height="11.55" fill="#089981"/><rect x="329.90" y="344.02" width="0.7" height="17.48" fill="#089981"/><rect x="329.57" y="345.00" width="1.35" height="11.55" fill="#089981"/><rect x="331.65" y="330.41" width="0.7" height="24.60" fill="#f23645"/><rect x="331.32" y="331.00" width="1.35" height="23.00" fill="#f23645"/><rect x="333.40" y="353.78" width="0.7" height="27.33" fill="#089981"/><rect x="333.07" y="354.25" width="1.35" height="26.25" fill="#089981"/><rect x="334.90" y="342.17" width="0.7" height="38.33" fill="#089981"/><rect x="334.57" y="343.00" width="1.35" height="26.25" fill="#089981"/><rect x="336.65" y="339.59" width="0.7" height="33.41" fill="#f23645"/><rect x="336.32" y="340.00" width="1.35" height="32.00" fill="#f23645"/><rect x="338.65" y="363.15" width="0.7" height="37.61" fill="#f23645"/><rect x="338.32" y="364.00" width="1.35" height="36.00" fill="#f23645"/><rect x="340.65" y="390.00" width="0.7" height="38.00" fill="#089981"/><rect x="340.32" y="391.00" width="1.35" height="9.00" fill="#089981"/><rect x="342.65" y="361.00" width="0.7" height="53.00" fill="#089981"/><rect x="342.32" y="368.00" width="1.35" height="22.00" fill="#089981"/><rect x="344.65" y="363.92" width="0.7" height="17.47" fill="#089981"/><rect x="344.32" y="364.00" width="1.35" height="16.50" fill="#089981"/><rect x="346.65" y="347.00" width="0.7" height="41.50" fill="#f23645"/><rect x="346.32" y="356.00" width="1.35" height="24.00" fill="#f23645"/><rect x="348.65" y="355.90" width="0.7" height="16.11" fill="#f23645"/><rect x="348.32" y="356.00" width="1.35" height="15.00" fill="#f23645"/><rect x="350.45" y="360.96" width="0.7" height="7.85" fill="#089981"/><rect x="350.12" y="362.00" width="1.35" height="6.00" fill="#089981"/><rect x="352.02" y="360.46" width="0.7" height="12.39" fill="#f23645"/><rect x="351.70" y="360.80" width="1.35" height="11.76" fill="#f23645"/><rect x="353.57" y="346.00" width="0.7" height="38.00" fill="#f23645"/><rect x="353.25" y="365.84" width="1.35" height="11.76" fill="#f23645"/><rect x="355.17" y="356.31" width="0.7" height="11.22" fill="#089981"/><rect x="354.85" y="356.50" width="1.35" height="10.50" fill="#089981"/><rect x="356.82" y="348.00" width="0.7" height="19.00" fill="#089981"/><rect x="356.50" y="352.00" width="1.35" height="10.50" fill="#089981"/><rect x="358.40" y="354.83" width="0.7" height="22.82" fill="#f23645"/><rect x="358.07" y="356.00" width="1.35" height="21.00" fill="#f23645"/><rect x="359.90" y="352.00" width="0.7" height="36.00" fill="#f23645"/><rect x="359.57" y="365.00" width="1.35" height="21.00" fill="#f23645"/><rect x="361.65" y="346.00" width="0.7" height="64.00" fill="#089981"/><rect x="361.32" y="360.00" width="1.35" height="20.00" fill="#089981"/><rect x="363.80" y="348.00" width="0.7" height="21.46" fill="#089981"/><rect x="363.47" y="348.00" width="1.35" height="21.00" fill="#089981"/><rect x="366.00" y="322.43" width="0.7" height="36.87" fill="#089981"/><rect x="365.68" y="323.00" width="1.35" height="35.70" fill="#089981"/><rect x="367.65" y="293.16" width="0.7" height="32.45" fill="#089981"/><rect x="367.32" y="293.40" width="1.35" height="31.60" fill="#089981"/><rect x="368.95" y="292.99" width="0.7" height="12.32" fill="#f23645"/><rect x="368.62" y="293.00" width="1.35" height="12.00" fill="#f23645"/><rect x="370.40" y="293.89" width="0.7" height="10.59" fill="#089981"/><rect x="370.07" y="294.00" width="1.35" height="10.00" fill="#089981"/><rect x="372.25" y="295.95" width="0.7" height="16.08" fill="#f23645"/><rect x="371.93" y="296.00" width="1.35" height="16.00" fill="#f23645"/><rect x="374.50" y="299.63" width="0.7" height="10.64" fill="#f23645"/><rect x="374.18" y="300.00" width="1.35" height="10.00" fill="#f23645"/><rect x="376.65" y="301.30" width="0.7" height="13.34" fill="#f23645"/><rect x="376.32" y="302.00" width="1.35" height="12.00" fill="#f23645"/><rect x="378.65" y="304.10" width="0.7" height="17.49" fill="#f23645"/><rect x="378.32" y="305.00" width="1.35" height="15.80" fill="#f23645"/><rect x="380.15" y="312.54" width="0.7" height="4.01" fill="#089981"/><rect x="379.82" y="313.40" width="1.35" height="2.10" fill="#089981"/><rect x="381.65" y="198.53" width="0.7" height="16.56" fill="#089981"/><rect x="381.32" y="199.00" width="1.35" height="15.70" fill="#089981"/><rect x="383.65" y="207.82" width="0.7" height="22.36" fill="#f23645"/><rect x="383.32" y="209.00" width="1.35" height="21.00" fill="#f23645"/><rect x="385.65" y="215.73" width="0.7" height="15.04" fill="#f23645"/><rect x="385.32" y="216.60" width="1.35" height="13.40" fill="#f23645"/><rect x="387.65" y="191.00" width="0.7" height="40.00" fill="#089981"/><rect x="387.32" y="205.00" width="1.35" height="25.00" fill="#089981"/><rect x="389.40" y="197.93" width="0.7" height="19.42" fill="#089981"/><rect x="389.07" y="199.00" width="1.35" height="17.60" fill="#089981"/><rect x="390.90" y="179.70" width="0.7" height="56.30" fill="#f23645"/><rect x="390.57" y="190.00" width="1.35" height="36.00" fill="#f23645"/><rect x="392.65" y="223.83" width="0.7" height="22.50" fill="#f23645"/><rect x="392.32" y="224.00" width="1.35" height="21.70" fill="#f23645"/><rect x="394.65" y="235.39" width="0.7" height="26.61" fill="#f23645"/><rect x="394.32" y="236.00" width="1.35" height="25.00" fill="#f23645"/><rect x="396.65" y="246.73" width="0.7" height="31.06" fill="#f23645"/><rect x="396.32" y="247.70" width="1.35" height="29.10" fill="#f23645"/><rect x="398.65" y="243.10" width="0.7" height="28.97" fill="#089981"/><rect x="398.32" y="243.80" width="1.35" height="27.20" fill="#089981"/><rect x="400.65" y="235.18" width="0.7" height="15.25" fill="#089981"/><rect x="400.32" y="236.00" width="1.35" height="13.60" fill="#089981"/><rect x="402.65" y="231.72" width="0.7" height="39.31" fill="#f23645"/><rect x="402.32" y="232.00" width="1.35" height="39.00" fill="#f23645"/><rect x="404.40" y="265.00" width="0.7" height="7.43" fill="#f23645"/><rect x="404.07" y="265.00" width="1.35" height="7.00" fill="#f23645"/><rect x="405.90" y="265.00" width="0.7" height="11.00" fill="#f23645"/><rect x="405.57" y="268.00" width="1.35" height="7.00" fill="#f23645"/><rect x="407.40" y="271.00" width="0.7" height="7.54" fill="#f23645"/><rect x="407.07" y="271.00" width="1.35" height="6.79" fill="#f23645"/><rect x="408.90" y="271.00" width="0.7" height="10.52" fill="#f23645"/><rect x="408.57" y="273.91" width="1.35" height="6.79" fill="#f23645"/><rect x="410.65" y="254.81" width="0.7" height="23.89" fill="#089981"/><rect x="410.32" y="255.40" width="1.35" height="23.30" fill="#089981"/><rect x="412.40" y="259.00" width="0.7" height="6.50" fill="#f23645"/><rect x="412.07" y="259.00" width="1.35" height="5.60" fill="#f23645"/><rect x="413.90" y="259.00" width="0.7" height="8.64" fill="#f23645"/><rect x="413.57" y="261.40" width="1.35" height="5.60" fill="#f23645"/><rect x="415.40" y="261.00" width="0.7" height="20.38" fill="#f23645"/><rect x="415.07" y="261.00" width="1.35" height="20.30" fill="#f23645"/><rect x="416.90" y="261.00" width="0.7" height="29.30" fill="#f23645"/><rect x="416.57" y="269.70" width="1.35" height="20.30" fill="#f23645"/><rect x="418.40" y="267.61" width="0.7" height="20.71" fill="#089981"/><rect x="418.07" y="267.70" width="1.35" height="20.30" fill="#089981"/><rect x="419.90" y="258.12" width="0.7" height="29.88" fill="#089981"/><rect x="419.57" y="259.00" width="1.35" height="20.30" fill="#089981"/><rect x="421.40" y="263.00" width="0.7" height="12.37" fill="#f23645"/><rect x="421.07" y="263.00" width="1.35" height="11.20" fill="#f23645"/><rect x="422.90" y="263.00" width="0.7" height="16.46" fill="#f23645"/><rect x="422.57" y="267.80" width="1.35" height="11.20" fill="#f23645"/><rect x="424.65" y="260.43" width="0.7" height="17.40" fill="#089981"/><rect x="424.32" y="261.00" width="1.35" height="16.00" fill="#089981"/><rect x="426.40" y="263.00" width="0.7" height="11.94" fill="#f23645"/><rect x="426.07" y="263.00" width="1.35" height="11.20" fill="#f23645"/><rect x="427.90" y="263.00" width="0.7" height="16.09" fill="#f23645"/><rect x="427.57" y="267.80" width="1.35" height="11.20" fill="#f23645"/><rect x="429.40" y="260.82" width="0.7" height="8.48" fill="#f23645"/><rect x="429.07" y="261.00" width="1.35" height="8.00" fill="#f23645"/><rect x="430.90" y="264.11" width="0.7" height="9.26" fill="#089981"/><rect x="430.57" y="265.00" width="1.35" height="8.00" fill="#089981"/><rect x="432.40" y="266.32" width="0.7" height="8.70" fill="#f23645"/><rect x="432.07" y="267.00" width="1.35" height="8.00" fill="#f23645"/><rect x="433.90" y="281.53" width="0.7" height="9.80" fill="#f23645"/><rect x="433.57" y="281.60" width="1.35" height="9.40" fill="#f23645"/><rect x="435.65" y="281.19" width="0.7" height="9.64" fill="#089981"/><rect x="435.32" y="282.00" width="1.35" height="8.00" fill="#089981"/><rect x="437.65" y="270.00" width="0.7" height="41.70" fill="#089981"/><rect x="437.32" y="285.50" width="1.35" height="9.50" fill="#089981"/><rect x="439.27" y="283.20" width="0.7" height="6.36" fill="#089981"/><rect x="438.95" y="283.82" width="1.35" height="5.18" fill="#089981"/><rect x="440.52" y="281.04" width="0.7" height="7.96" fill="#089981"/><rect x="440.20" y="281.60" width="1.35" height="5.18" fill="#089981"/><rect x="441.77" y="282.60" width="0.7" height="4.30" fill="#f23645"/><rect x="441.45" y="282.60" width="1.35" height="4.06" fill="#f23645"/><rect x="443.02" y="282.60" width="0.7" height="6.92" fill="#f23645"/><rect x="442.70" y="284.34" width="1.35" height="4.06" fill="#f23645"/><rect x="444.40" y="285.50" width="0.7" height="7.20" fill="#f23645"/><rect x="444.07" y="285.50" width="1.35" height="6.65" fill="#f23645"/><rect x="445.90" y="285.50" width="0.7" height="10.66" fill="#f23645"/><rect x="445.57" y="288.35" width="1.35" height="6.65" fill="#f23645"/><rect x="445.85" y="288.86" width="0.7" height="29.96" fill="#f23645"/><rect x="445.52" y="289.40" width="1.35" height="29.10" fill="#f23645"/><rect x="447.85" y="306.75" width="0.7" height="14.89" fill="#089981"/><rect x="447.52" y="307.00" width="1.35" height="13.50" fill="#089981"/><rect x="449.85" y="296.75" width="0.7" height="20.55" fill="#f23645"/><rect x="449.52" y="297.00" width="1.35" height="19.60" fill="#f23645"/><rect x="451.85" y="308.83" width="0.7" height="6.50" fill="#089981"/><rect x="451.52" y="309.00" width="1.35" height="5.70" fill="#089981"/><rect x="453.85" y="303.86" width="0.7" height="34.30" fill="#f23645"/><rect x="453.52" y="305.00" width="1.35" height="33.00" fill="#f23645"/><rect x="455.85" y="325.02" width="0.7" height="19.59" fill="#f23645"/><rect x="455.52" y="326.00" width="1.35" height="18.00" fill="#f23645"/><rect x="457.85" y="328.94" width="0.7" height="22.51" fill="#089981"/><rect x="457.52" y="330.00" width="1.35" height="20.60" fill="#089981"/><rect x="459.85" y="329.52" width="0.7" height="5.55" fill="#089981"/><rect x="459.52" y="329.80" width="1.35" height="4.20" fill="#089981"/><rect x="461.85" y="327.42" width="0.7" height="6.58" fill="#089981"/><rect x="461.52" y="328.00" width="1.35" height="4.20" fill="#089981"/><rect x="465.65" y="312.70" width="0.7" height="17.89" fill="#089981"/><rect x="465.32" y="312.70" width="1.35" height="17.30" fill="#089981"/><rect x="467.40" y="312.16" width="0.7" height="8.70" fill="#089981"/><rect x="467.07" y="312.70" width="1.35" height="7.80" fill="#089981"/><rect x="468.90" y="316.43" width="0.7" height="6.38" fill="#f23645"/><rect x="468.57" y="316.60" width="1.35" height="5.80" fill="#f23645"/><rect x="470.40" y="310.42" width="0.7" height="16.89" fill="#089981"/><rect x="470.07" y="310.80" width="1.35" height="15.50" fill="#089981"/><rect x="471.90" y="315.60" width="0.7" height="17.30" fill="#f23645"/><rect x="471.57" y="315.60" width="1.35" height="16.40" fill="#f23645"/><rect x="473.40" y="303.99" width="0.7" height="14.65" fill="#089981"/><rect x="473.07" y="305.00" width="1.35" height="13.50" fill="#089981"/><rect x="474.90" y="309.69" width="0.7" height="23.17" fill="#f23645"/><rect x="474.57" y="310.80" width="1.35" height="21.20" fill="#f23645"/><rect x="476.65" y="307.72" width="0.7" height="17.03" fill="#f23645"/><rect x="476.32" y="308.80" width="1.35" height="15.60" fill="#f23645"/><rect x="478.40" y="306.40" width="0.7" height="14.57" fill="#089981"/><rect x="478.07" y="306.85" width="1.35" height="13.65" fill="#089981"/><rect x="479.90" y="299.80" width="0.7" height="20.70" fill="#089981"/><rect x="479.57" y="301.00" width="1.35" height="13.65" fill="#089981"/><rect x="481.40" y="297.00" width="0.7" height="11.50" fill="#f23645"/><rect x="481.07" y="297.00" width="1.35" height="10.99" fill="#f23645"/><rect x="482.90" y="297.00" width="0.7" height="15.76" fill="#f23645"/><rect x="482.57" y="301.71" width="1.35" height="10.99" fill="#f23645"/><rect x="484.40" y="300.88" width="0.7" height="22.52" fill="#f23645"/><rect x="484.07" y="301.00" width="1.35" height="21.40" fill="#f23645"/><rect x="485.90" y="304.66" width="0.7" height="9.17" fill="#089981"/><rect x="485.57" y="305.00" width="1.35" height="7.70" fill="#089981"/><rect x="487.48" y="309.00" width="0.7" height="1.72" fill="#f23645"/><rect x="487.16" y="309.00" width="1.35" height="1.40" fill="#f23645"/><rect x="489.15" y="308.99" width="0.7" height="3.01" fill="#f23645"/><rect x="488.82" y="309.60" width="1.35" height="1.80" fill="#f23645"/><rect x="490.82" y="310.15" width="0.7" height="3.00" fill="#f23645"/><rect x="490.49" y="310.60" width="1.35" height="1.40" fill="#f23645"/><rect x="493.65" y="320.44" width="0.7" height="19.54" fill="#f23645"/><rect x="493.32" y="321.50" width="1.35" height="17.50" fill="#f23645"/><rect x="495.40" y="333.24" width="0.7" height="7.85" fill="#089981"/><rect x="495.07" y="334.00" width="1.35" height="6.00" fill="#089981"/><rect x="496.90" y="332.87" width="0.7" height="9.79" fill="#f23645"/><rect x="496.57" y="334.00" width="1.35" height="8.00" fill="#f23645"/><rect x="498.65" y="333.14" width="0.7" height="22.32" fill="#f23645"/><rect x="498.32" y="334.00" width="1.35" height="21.40" fill="#f23645"/><rect x="500.40" y="345.70" width="0.7" height="8.73" fill="#f23645"/><rect x="500.07" y="345.70" width="1.35" height="8.19" fill="#f23645"/><rect x="501.90" y="345.70" width="0.7" height="12.47" fill="#f23645"/><rect x="501.57" y="349.21" width="1.35" height="8.19" fill="#f23645"/><rect x="503.65" y="337.66" width="0.7" height="19.80" fill="#089981"/><rect x="503.32" y="338.00" width="1.35" height="19.40" fill="#089981"/><rect x="505.65" y="348.49" width="0.7" height="10.96" fill="#f23645"/><rect x="505.32" y="349.60" width="1.35" height="9.70" fill="#f23645"/><rect x="507.65" y="354.83" width="0.7" height="17.58" fill="#f23645"/><rect x="507.32" y="355.40" width="1.35" height="16.60" fill="#f23645"/><rect x="509.65" y="357.04" width="0.7" height="12.84" fill="#089981"/><rect x="509.32" y="357.40" width="1.35" height="11.60" fill="#089981"/><rect x="511.65" y="363.83" width="0.7" height="5.48" fill="#f23645"/><rect x="511.32" y="365.00" width="1.35" height="4.00" fill="#f23645"/><rect x="513.65" y="343.01" width="0.7" height="26.35" fill="#089981"/><rect x="513.33" y="343.80" width="1.35" height="25.20" fill="#089981"/><rect x="515.40" y="344.17" width="0.7" height="5.90" fill="#089981"/><rect x="515.08" y="344.84" width="1.35" height="4.76" fill="#089981"/><rect x="516.90" y="342.60" width="0.7" height="7.00" fill="#089981"/><rect x="516.58" y="342.80" width="1.35" height="4.76" fill="#089981"/><rect x="518.65" y="343.55" width="0.7" height="7.14" fill="#f23645"/><rect x="518.33" y="343.80" width="1.35" height="5.80" fill="#f23645"/><rect x="520.65" y="333.40" width="0.7" height="14.56" fill="#089981"/><rect x="520.33" y="334.00" width="1.35" height="13.70" fill="#089981"/><rect x="522.40" y="323.31" width="0.7" height="15.88" fill="#089981"/><rect x="522.08" y="324.40" width="1.35" height="13.60" fill="#089981"/><rect x="523.77" y="324.40" width="0.7" height="6.89" fill="#f23645"/><rect x="523.45" y="324.40" width="1.35" height="6.72" fill="#f23645"/><rect x="525.02" y="324.40" width="0.7" height="9.71" fill="#f23645"/><rect x="524.70" y="327.28" width="1.35" height="6.72" fill="#f23645"/><rect x="526.65" y="327.59" width="0.7" height="6.52" fill="#f23645"/><rect x="526.33" y="328.00" width="1.35" height="6.00" fill="#f23645"/><rect x="528.65" y="325.71" width="0.7" height="8.60" fill="#089981"/><rect x="528.33" y="326.00" width="1.35" height="8.00" fill="#089981"/><rect x="530.65" y="299.32" width="0.7" height="35.75" fill="#089981"/><rect x="530.33" y="300.00" width="1.35" height="34.00" fill="#089981"/><rect x="532.65" y="288.10" width="0.7" height="13.39" fill="#089981"/><rect x="532.33" y="289.00" width="1.35" height="12.00" fill="#089981"/><rect x="534.65" y="275.70" width="0.7" height="21.93" fill="#089981"/><rect x="534.33" y="281.50" width="1.35" height="15.50" fill="#089981"/><rect x="536.65" y="279.15" width="0.7" height="24.26" fill="#f23645"/><rect x="536.33" y="279.60" width="1.35" height="23.40" fill="#f23645"/><rect x="538.65" y="284.93" width="0.7" height="16.41" fill="#f23645"/><rect x="538.33" y="285.00" width="1.35" height="16.00" fill="#f23645"/><rect x="540.15" y="283.84" width="0.7" height="19.31" fill="#f23645"/><rect x="539.83" y="285.00" width="1.35" height="18.00" fill="#f23645"/><rect x="541.15" y="282.40" width="0.7" height="11.36" fill="#089981"/><rect x="540.83" y="283.00" width="1.35" height="10.00" fill="#089981"/><rect x="542.65" y="245.56" width="0.7" height="43.99" fill="#089981"/><rect x="542.33" y="246.60" width="1.35" height="42.70" fill="#089981"/><rect x="544.65" y="240.47" width="0.7" height="10.32" fill="#089981"/><rect x="544.33" y="240.80" width="1.35" height="9.70" fill="#089981"/><rect x="546.15" y="240.32" width="0.7" height="8.71" fill="#f23645"/><rect x="545.83" y="240.80" width="1.35" height="7.70" fill="#f23645"/><rect x="547.15" y="238.66" width="0.7" height="8.96" fill="#089981"/><rect x="546.83" y="239.80" width="1.35" height="6.80" fill="#089981"/><rect x="548.65" y="241.65" width="0.7" height="6.87" fill="#f23645"/><rect x="548.33" y="242.70" width="1.35" height="5.80" fill="#f23645"/><rect x="550.65" y="244.66" width="0.7" height="8.59" fill="#f23645"/><rect x="550.33" y="244.70" width="1.35" height="7.70" fill="#f23645"/><rect x="552.65" y="235.93" width="0.7" height="9.34" fill="#089981"/><rect x="552.33" y="237.00" width="1.35" height="7.70" fill="#089981"/><rect x="554.65" y="232.30" width="0.7" height="10.40" fill="#089981"/><rect x="554.33" y="233.00" width="1.35" height="9.70" fill="#089981"/><rect x="556.65" y="226.53" width="0.7" height="23.08" fill="#089981"/><rect x="556.33" y="227.00" width="1.35" height="21.50" fill="#089981"/><rect x="558.65" y="220.41" width="0.7" height="17.62" fill="#f23645"/><rect x="558.33" y="221.40" width="1.35" height="15.60" fill="#f23645"/><rect x="560.65" y="225.83" width="0.7" height="30.46" fill="#f23645"/><rect x="560.33" y="227.00" width="1.35" height="29.00" fill="#f23645"/><rect x="562.65" y="244.57" width="0.7" height="19.62" fill="#089981"/><rect x="562.33" y="244.70" width="1.35" height="19.30" fill="#089981"/><rect x="564.40" y="240.80" width="0.7" height="10.34" fill="#f23645"/><rect x="564.08" y="240.80" width="1.35" height="9.52" fill="#f23645"/><rect x="565.90" y="240.80" width="0.7" height="14.47" fill="#f23645"/><rect x="565.58" y="244.88" width="1.35" height="9.52" fill="#f23645"/><rect x="567.40" y="242.70" width="0.7" height="10.23" fill="#f23645"/><rect x="567.08" y="242.70" width="1.35" height="9.31" fill="#f23645"/><rect x="568.90" y="242.70" width="0.7" height="13.96" fill="#f23645"/><rect x="568.58" y="246.69" width="1.35" height="9.31" fill="#f23645"/><rect x="570.40" y="248.50" width="0.7" height="6.19" fill="#f23645"/><rect x="570.08" y="248.50" width="1.35" height="5.25" fill="#f23645"/><rect x="571.90" y="248.50" width="0.7" height="8.60" fill="#f23645"/><rect x="571.58" y="250.75" width="1.35" height="5.25" fill="#f23645"/><rect x="573.15" y="249.73" width="0.7" height="6.64" fill="#f23645"/><rect x="572.83" y="250.50" width="1.35" height="5.50" fill="#f23645"/><rect x="574.15" y="250.35" width="0.7" height="5.96" fill="#089981"/><rect x="573.83" y="250.50" width="1.35" height="5.50" fill="#089981"/><rect x="575.65" y="251.64" width="0.7" height="23.00" fill="#f23645"/><rect x="575.33" y="252.40" width="1.35" height="21.40" fill="#f23645"/><rect x="577.40" y="260.61" width="0.7" height="11.28" fill="#089981"/><rect x="577.08" y="260.74" width="1.35" height="11.06" fill="#089981"/><rect x="578.90" y="255.37" width="0.7" height="16.43" fill="#089981"/><rect x="578.58" y="256.00" width="1.35" height="11.06" fill="#089981"/><rect x="580.40" y="250.03" width="0.7" height="16.23" fill="#089981"/><rect x="580.08" y="250.50" width="1.35" height="15.50" fill="#089981"/><rect x="581.90" y="251.68" width="0.7" height="6.33" fill="#f23645"/><rect x="581.58" y="252.40" width="1.35" height="5.60" fill="#f23645"/><rect x="583.40" y="249.53" width="0.7" height="13.02" fill="#089981"/><rect x="583.08" y="249.89" width="1.35" height="12.11" fill="#089981"/><rect x="584.90" y="243.55" width="0.7" height="18.45" fill="#089981"/><rect x="584.58" y="244.70" width="1.35" height="12.11" fill="#089981"/><rect x="586.65" y="235.94" width="0.7" height="13.13" fill="#089981"/><rect x="586.33" y="237.00" width="1.35" height="11.50" fill="#089981"/><rect x="588.40" y="235.63" width="0.7" height="7.37" fill="#089981"/><rect x="588.08" y="235.91" width="1.35" height="6.79" fill="#089981"/><rect x="589.90" y="231.85" width="0.7" height="10.85" fill="#089981"/><rect x="589.58" y="233.00" width="1.35" height="6.79" fill="#089981"/><rect x="591.40" y="228.23" width="0.7" height="8.80" fill="#089981"/><rect x="591.08" y="228.60" width="1.35" height="8.40" fill="#089981"/><rect x="592.90" y="224.40" width="0.7" height="12.60" fill="#089981"/><rect x="592.58" y="225.00" width="1.35" height="8.40" fill="#089981"/><rect x="594.65" y="220.45" width="0.7" height="8.86" fill="#089981"/><rect x="594.33" y="220.95" width="1.35" height="8.05" fill="#089981"/><rect x="596.65" y="213.60" width="0.7" height="15.40" fill="#089981"/><rect x="596.33" y="217.50" width="1.35" height="8.05" fill="#089981"/><rect x="598.65" y="215.23" width="0.7" height="9.81" fill="#f23645"/><rect x="598.33" y="215.50" width="1.35" height="9.50" fill="#f23645"/><rect x="600.65" y="214.59" width="0.7" height="2.91" fill="#089981"/><rect x="600.33" y="215.00" width="1.35" height="2.00" fill="#089981"/><rect x="602.40" y="216.50" width="0.7" height="5.98" fill="#f23645"/><rect x="602.08" y="216.50" width="1.35" height="5.74" fill="#f23645"/><rect x="603.90" y="216.50" width="0.7" height="9.09" fill="#f23645"/><rect x="603.58" y="218.96" width="1.35" height="5.74" fill="#f23645"/><rect x="605.40" y="222.00" width="0.7" height="3.05" fill="#f23645"/><rect x="605.08" y="222.00" width="1.35" height="2.80" fill="#f23645"/><rect x="606.90" y="222.00" width="0.7" height="4.37" fill="#f23645"/><rect x="606.58" y="223.20" width="1.35" height="2.80" fill="#f23645"/><rect x="608.40" y="224.70" width="0.7" height="14.49" fill="#f23645"/><rect x="608.08" y="224.70" width="1.35" height="14.21" fill="#f23645"/><rect x="609.90" y="224.70" width="0.7" height="21.21" fill="#f23645"/><rect x="609.58" y="230.79" width="1.35" height="14.21" fill="#f23645"/><rect x="611.15" y="235.25" width="0.7" height="8.40" fill="#f23645"/><rect x="610.83" y="235.60" width="1.35" height="6.90" fill="#f23645"/><rect x="612.15" y="235.01" width="0.7" height="7.72" fill="#089981"/><rect x="611.83" y="235.60" width="1.35" height="6.90" fill="#089981"/><rect x="613.65" y="212.13" width="0.7" height="32.17" fill="#089981"/><rect x="613.33" y="212.40" width="1.35" height="31.40" fill="#089981"/><rect x="615.40" y="218.20" width="0.7" height="7.54" fill="#f23645"/><rect x="615.08" y="219.00" width="1.35" height="5.60" fill="#f23645"/><rect x="616.90" y="211.00" width="0.7" height="22.00" fill="#f23645"/><rect x="616.58" y="221.40" width="1.35" height="5.60" fill="#f23645"/><rect x="618.65" y="214.74" width="0.7" height="12.42" fill="#089981"/><rect x="618.33" y="215.00" width="1.35" height="11.00" fill="#089981"/><rect x="620.40" y="209.60" width="0.7" height="11.54" fill="#f23645"/><rect x="620.08" y="209.60" width="1.35" height="11.48" fill="#f23645"/><rect x="621.90" y="209.60" width="0.7" height="16.87" fill="#f23645"/><rect x="621.58" y="214.52" width="1.35" height="11.48" fill="#f23645"/><rect x="623.40" y="210.42" width="0.7" height="12.64" fill="#089981"/><rect x="623.08" y="211.50" width="1.35" height="10.50" fill="#089981"/><rect x="624.90" y="206.12" width="0.7" height="15.88" fill="#089981"/><rect x="624.58" y="207.00" width="1.35" height="10.50" fill="#089981"/><rect x="626.65" y="209.88" width="0.7" height="7.01" fill="#f23645"/><rect x="626.33" y="211.00" width="1.35" height="5.50" fill="#f23645"/><rect x="628.65" y="213.58" width="0.7" height="6.55" fill="#f23645"/><rect x="628.33" y="213.80" width="1.35" height="5.20" fill="#f23645"/><rect x="630.40" y="217.55" width="0.7" height="5.48" fill="#089981"/><rect x="630.08" y="218.45" width="1.35" height="4.55" fill="#089981"/><rect x="631.90" y="215.70" width="0.7" height="7.30" fill="#089981"/><rect x="631.58" y="216.50" width="1.35" height="4.55" fill="#089981"/><rect x="633.40" y="209.40" width="0.7" height="7.50" fill="#089981"/><rect x="633.08" y="209.85" width="1.35" height="6.65" fill="#089981"/><rect x="634.90" y="206.80" width="0.7" height="9.70" fill="#089981"/><rect x="634.58" y="207.00" width="1.35" height="6.65" fill="#089981"/><rect x="636.40" y="206.66" width="0.7" height="4.76" fill="#f23645"/><rect x="636.08" y="207.00" width="1.35" height="4.00" fill="#f23645"/><rect x="637.90" y="202.85" width="0.7" height="8.30" fill="#089981"/><rect x="637.58" y="204.00" width="1.35" height="7.00" fill="#089981"/><rect x="639.65" y="202.84" width="0.7" height="7.01" fill="#089981"/><rect x="639.33" y="204.00" width="1.35" height="5.60" fill="#089981"/><rect x="641.65" y="193.00" width="0.7" height="20.80" fill="#f23645"/><rect x="641.33" y="204.00" width="1.35" height="7.00" fill="#f23645"/><rect x="643.40" y="208.00" width="0.7" height="5.42" fill="#f23645"/><rect x="643.08" y="208.00" width="1.35" height="4.90" fill="#f23645"/><rect x="644.90" y="208.00" width="0.7" height="7.57" fill="#f23645"/><rect x="644.58" y="210.10" width="1.35" height="4.90" fill="#f23645"/><rect x="646.65" y="210.55" width="0.7" height="15.25" fill="#f23645"/><rect x="646.33" y="211.00" width="1.35" height="13.70" fill="#f23645"/><rect x="648.65" y="210.77" width="0.7" height="11.67" fill="#089981"/><rect x="648.33" y="211.00" width="1.35" height="11.00" fill="#089981"/><rect x="650.40" y="205.02" width="0.7" height="6.01" fill="#089981"/><rect x="650.08" y="206.10" width="1.35" height="4.90" fill="#089981"/><rect x="651.90" y="203.51" width="0.7" height="7.49" fill="#089981"/><rect x="651.58" y="204.00" width="1.35" height="4.90" fill="#089981"/><rect x="653.65" y="192.08" width="0.7" height="14.97" fill="#089981"/><rect x="653.33" y="193.00" width="1.35" height="14.00" fill="#089981"/><rect x="655.40" y="202.80" width="0.7" height="3.93" fill="#f23645"/><rect x="655.08" y="202.80" width="1.35" height="3.85" fill="#f23645"/><rect x="656.90" y="202.80" width="0.7" height="5.81" fill="#f23645"/><rect x="656.58" y="204.45" width="1.35" height="3.85" fill="#f23645"/><rect x="658.65" y="201.90" width="0.7" height="7.48" fill="#089981"/><rect x="658.33" y="202.80" width="1.35" height="5.50" fill="#089981"/><rect x="660.40" y="197.63" width="0.7" height="5.49" fill="#089981"/><rect x="660.08" y="198.04" width="1.35" height="4.76" fill="#089981"/><rect x="661.90" y="194.85" width="0.7" height="7.95" fill="#089981"/><rect x="661.58" y="196.00" width="1.35" height="4.76" fill="#089981"/><rect x="663.40" y="196.00" width="0.7" height="5.62" fill="#f23645"/><rect x="663.08" y="196.00" width="1.35" height="4.76" fill="#f23645"/><rect x="664.90" y="196.00" width="0.7" height="7.13" fill="#f23645"/><rect x="664.58" y="198.04" width="1.35" height="4.76" fill="#f23645"/><rect x="666.65" y="198.70" width="0.7" height="7.71" fill="#f23645"/><rect x="666.33" y="198.70" width="1.35" height="6.80" fill="#f23645"/><rect x="668.65" y="200.30" width="0.7" height="10.06" fill="#f23645"/><rect x="668.33" y="201.40" width="1.35" height="8.20" fill="#f23645"/><rect x="670.65" y="194.60" width="0.7" height="23.40" fill="#089981"/><rect x="670.33" y="196.00" width="1.35" height="9.50" fill="#089981"/><rect x="672.65" y="186.12" width="0.7" height="11.75" fill="#089981"/><rect x="672.33" y="186.40" width="1.35" height="10.90" fill="#089981"/><rect x="674.65" y="189.35" width="0.7" height="18.79" fill="#f23645"/><rect x="674.33" y="190.50" width="1.35" height="16.50" fill="#f23645"/><rect x="676.65" y="196.84" width="0.7" height="13.07" fill="#f23645"/><rect x="676.33" y="197.30" width="1.35" height="12.30" fill="#f23645"/><rect x="678.65" y="189.98" width="0.7" height="7.91" fill="#089981"/><rect x="678.33" y="190.50" width="1.35" height="6.80" fill="#089981"/><rect x="680.40" y="189.00" width="0.7" height="5.12" fill="#f23645"/><rect x="680.08" y="189.00" width="1.35" height="4.90" fill="#f23645"/><rect x="681.90" y="189.00" width="0.7" height="7.89" fill="#f23645"/><rect x="681.58" y="191.10" width="1.35" height="4.90" fill="#f23645"/><rect x="683.40" y="196.00" width="0.7" height="3.73" fill="#f23645"/><rect x="683.08" y="196.00" width="1.35" height="2.80" fill="#f23645"/><rect x="684.90" y="196.00" width="0.7" height="4.39" fill="#f23645"/><rect x="684.58" y="197.20" width="1.35" height="2.80" fill="#f23645"/><rect x="686.40" y="197.30" width="0.7" height="2.32" fill="#f23645"/><rect x="686.08" y="197.30" width="1.35" height="1.89" fill="#f23645"/><rect x="687.90" y="197.17" width="0.7" height="2.92" fill="#f23645"/><rect x="687.58" y="198.11" width="1.35" height="1.89" fill="#f23645"/><rect x="689.40" y="197.06" width="0.7" height="5.24" fill="#089981"/><rect x="689.08" y="197.30" width="1.35" height="4.10" fill="#089981"/><rect x="690.90" y="194.30" width="0.7" height="5.77" fill="#f23645"/><rect x="690.58" y="194.60" width="1.35" height="5.40" fill="#f23645"/><rect x="692.40" y="197.30" width="0.7" height="3.53" fill="#f23645"/><rect x="692.08" y="197.30" width="1.35" height="2.87" fill="#f23645"/><rect x="693.90" y="197.30" width="0.7" height="5.28" fill="#f23645"/><rect x="693.58" y="198.53" width="1.35" height="2.87" fill="#f23645"/><rect x="695.65" y="198.94" width="0.7" height="7.75" fill="#f23645"/><rect x="695.33" y="200.00" width="1.35" height="5.50" fill="#f23645"/><rect x="697.65" y="203.68" width="0.7" height="28.32" fill="#f23645"/><rect x="697.33" y="204.00" width="1.35" height="27.50" fill="#f23645"/><rect x="699.65" y="206.88" width="0.7" height="22.51" fill="#089981"/><rect x="699.33" y="207.00" width="1.35" height="21.80" fill="#089981"/><rect x="701.65" y="195.15" width="0.7" height="13.39" fill="#089981"/><rect x="701.33" y="196.00" width="1.35" height="12.00" fill="#089981"/><rect x="703.65" y="194.32" width="0.7" height="8.98" fill="#f23645"/><rect x="703.33" y="194.60" width="1.35" height="8.20" fill="#f23645"/><rect x="705.65" y="189.76" width="0.7" height="9.75" fill="#f23645"/><rect x="705.33" y="190.50" width="1.35" height="8.20" fill="#f23645"/><rect x="707.65" y="190.50" width="0.7" height="12.30" fill="#089981"/><rect x="707.33" y="193.00" width="1.35" height="7.00" fill="#089981"/><rect x="709.65" y="175.50" width="0.7" height="26.05" fill="#089981"/><rect x="709.33" y="181.00" width="1.35" height="20.40" fill="#089981"/><rect x="711.65" y="179.99" width="0.7" height="17.66" fill="#f23645"/><rect x="711.33" y="181.00" width="1.35" height="16.30" fill="#f23645"/><rect x="713.65" y="184.32" width="0.7" height="10.73" fill="#f23645"/><rect x="713.33" y="185.00" width="1.35" height="9.60" fill="#f23645"/><rect x="715.65" y="186.91" width="0.7" height="28.32" fill="#f23645"/><rect x="715.33" y="187.80" width="1.35" height="27.20" fill="#f23645"/><rect x="717.15" y="202.50" width="0.7" height="11.59" fill="#f23645"/><rect x="716.83" y="202.80" width="1.35" height="11.00" fill="#f23645"/><rect x="718.15" y="202.62" width="0.7" height="9.44" fill="#089981"/><rect x="717.83" y="202.80" width="1.35" height="8.20" fill="#089981"/><rect x="719.40" y="204.99" width="0.7" height="7.81" fill="#089981"/><rect x="719.08" y="205.68" width="1.35" height="6.72" fill="#089981"/><rect x="720.90" y="202.32" width="0.7" height="10.08" fill="#089981"/><rect x="720.58" y="202.80" width="1.35" height="6.72" fill="#089981"/><rect x="722.40" y="202.80" width="0.7" height="6.02" fill="#f23645"/><rect x="722.08" y="202.80" width="1.35" height="5.74" fill="#f23645"/><rect x="723.90" y="202.80" width="0.7" height="8.98" fill="#f23645"/><rect x="723.58" y="205.26" width="1.35" height="5.74" fill="#f23645"/><rect x="725.65" y="201.61" width="0.7" height="10.91" fill="#f23645"/><rect x="725.33" y="202.80" width="1.35" height="9.60" fill="#f23645"/><rect x="727.65" y="183.70" width="0.7" height="29.68" fill="#089981"/><rect x="727.33" y="198.70" width="1.35" height="13.70" fill="#089981"/><rect x="729.65" y="192.00" width="0.7" height="15.00" fill="#f23645"/><rect x="729.33" y="197.30" width="1.35" height="8.20" fill="#f23645"/><rect x="7" y="18" width="1010" height="576" fill="none" stroke="#2f2f2f" stroke-width="1"/>
<defs><clipPath id="pc"><rect x="980" y="18.5" width="40" height="557"/></clipPath></defs><g clip-path="url(#pc)"><text x="987" y="560.57" class="pa" textLength="24" lengthAdjust="spacingAndGlyphs">167,50</text><text x="987" y="539.80" class="pa" textLength="24" lengthAdjust="spacingAndGlyphs">170,00</text><text x="987" y="519.02" class="pa" textLength="24" lengthAdjust="spacingAndGlyphs">172,50</text><text x="987" y="498.25" class="pa" textLength="24" lengthAdjust="spacingAndGlyphs">175,00</text><text x="987" y="477.48" class="pa" textLength="24" lengthAdjust="spacingAndGlyphs">177,50</text><text x="987" y="435.93" class="pa" textLength="24" lengthAdjust="spacingAndGlyphs">182,50</text><text x="987" y="415.15" class="pa" textLength="24" lengthAdjust="spacingAndGlyphs">185,00</text><text x="987" y="394.38" class="pa" textLength="24" lengthAdjust="spacingAndGlyphs">187,50</text><text x="987" y="373.60" class="pa" textLength="24" lengthAdjust="spacingAndGlyphs">190,00</text><text x="987" y="352.82" class="pa" textLength="24" lengthAdjust="spacingAndGlyphs">192,50</text><text x="987" y="332.05" class="pa" textLength="24" lengthAdjust="spacingAndGlyphs">195,00</text><text x="987" y="311.27" class="pa" textLength="24" lengthAdjust="spacingAndGlyphs">197,50</text><text x="987" y="269.73" class="pa" textLength="24" lengthAdjust="spacingAndGlyphs">202,50</text><text x="987" y="248.95" class="pa" textLength="24" lengthAdjust="spacingAndGlyphs">205,00</text><text x="987" y="228.18" class="pa" textLength="24" lengthAdjust="spacingAndGlyphs">207,50</text><text x="987" y="186.63" class="pa" textLength="24" lengthAdjust="spacingAndGlyphs">212,50</text><text x="987" y="165.85" class="pa" textLength="24" lengthAdjust="spacingAndGlyphs">215,00</text><text x="987" y="145.08" class="pa" textLength="24" lengthAdjust="spacingAndGlyphs">217,50</text><text x="987" y="103.53" class="pa" textLength="24" lengthAdjust="spacingAndGlyphs">222,50</text><text x="987" y="82.75" class="pa" textLength="24" lengthAdjust="spacingAndGlyphs">225,00</text><text x="987" y="61.98" class="pa" textLength="24" lengthAdjust="spacingAndGlyphs">227,50</text><text x="987" y="41.20" class="pa" textLength="24" lengthAdjust="spacingAndGlyphs">230,00</text><text x="987" y="20.43" class="pa" textLength="24" lengthAdjust="spacingAndGlyphs">232,50</text><rect x="981" y="115.23" width="33.5" height="12" fill="#4caf50"/><text x="987" y="124.13" class="pa" style="fill:#ffffff" textLength="24" lengthAdjust="spacingAndGlyphs">220,02</text><rect x="981" y="199.50" width="33.5" height="12" fill="#f23645"/><text x="987" y="208.40" class="pa" style="fill:#ffffff" textLength="24" lengthAdjust="spacingAndGlyphs">209,88</text><rect x="981" y="281.60" width="33.5" height="12" fill="#ffffff"/><text x="987" y="290.50" class="pa" style="fill:#131722" textLength="24" lengthAdjust="spacingAndGlyphs">200,00</text><rect x="981" y="447.80" width="33.5" height="12" fill="#f23645"/><text x="987" y="456.70" class="pa" style="fill:#ffffff" textLength="24" lengthAdjust="spacingAndGlyphs">180,00</text></g>
<text x="43" y="587" text-anchor="middle" class="xa">27</text><text x="125" y="587" text-anchor="middle" class="xa" style="font-weight:bold">Avr</text><text x="181" y="587" text-anchor="middle" class="xa">3</text><text x="237" y="587" text-anchor="middle" class="xa">5</text><text x="293" y="587" text-anchor="middle" class="xa">9</text><text x="349" y="587" text-anchor="middle" class="xa">11</text><text x="406" y="587" text-anchor="middle" class="xa">15</text><text x="462" y="587" text-anchor="middle" class="xa">17</text><text x="518" y="587" text-anchor="middle" class="xa">22</text><text x="574" y="587" text-anchor="middle" class="xa">24</text><text x="630" y="587" text-anchor="middle" class="xa">26</text><text x="714.8" y="587" text-anchor="middle" class="xa" style="font-weight:bold">Mai</text><text x="770.6" y="587" text-anchor="middle" class="xa">3</text><text x="827.5" y="587" text-anchor="middle" class="xa">7</text><text x="883.2" y="587" text-anchor="middle" class="xa">9</text><text x="939.2" y="587" text-anchor="middle" class="xa">13</text>
<text x="12.4" y="31.6" class="lg" fill="#b2b5be" textLength="88.8" lengthAdjust="spacingAndGlyphs">Apple Inc · 1h · NASDAQ</text><text x="105.8" y="31.6" class="lg" fill="#b2b5be" textLength="5.4" lengthAdjust="spacingAndGlyphs">O</text><text x="111.4" y="31.6" class="lg" fill="#f23645" textLength="23.4" lengthAdjust="spacingAndGlyphs">210,79</text><text x="140.8" y="31.6" class="lg" fill="#b2b5be" textLength="5.3" lengthAdjust="spacingAndGlyphs">H</text><text x="146.3" y="31.6" class="lg" fill="#f23645" textLength="23.8" lengthAdjust="spacingAndGlyphs">211,59</text><text x="175.2" y="31.6" class="lg" fill="#b2b5be" textLength="5.2" lengthAdjust="spacingAndGlyphs">B</text><text x="180.6" y="31.6" class="lg" fill="#f23645" textLength="23.5" lengthAdjust="spacingAndGlyphs">209,73</text><text x="209.5" y="31.6" class="lg" fill="#b2b5be" textLength="4.9" lengthAdjust="spacingAndGlyphs">C</text><text x="214.7" y="31.6" class="lg" fill="#f23645" textLength="24.1" lengthAdjust="spacingAndGlyphs">209,88</text><text x="244.2" y="31.6" class="lg" fill="#f23645" textLength="19.3" lengthAdjust="spacingAndGlyphs">−0,80</text><text x="266.8" y="31.6" class="lg" fill="#f23645" textLength="30.4" lengthAdjust="spacingAndGlyphs">(−0,38%)</text>
<text x="708" y="106" class="an" fill="#4caf50" textLength="136.5" lengthAdjust="spacingAndGlyphs">With CFD = +200e</text><text x="682" y="485.6" class="an" fill="#f23645" textLength="137.5" lengthAdjust="spacingAndGlyphs">with CFD = - 200€</text><text x="641.5" y="142.3" class="an2" fill="#ffffff" textLength="32" lengthAdjust="spacingAndGlyphs">+20€</text><text x="644.8" y="441.5" class="an2" fill="#ffffff" textLength="28.3" lengthAdjust="spacingAndGlyphs">-20€</text><text x="560" y="305.1" class="an2" fill="#ffffff" textLength="118" lengthAdjust="spacingAndGlyphs">long 10 CFD Apple</text>
<circle cx="729" cy="566.4" r="6.8" fill="#0e0d12" stroke="#9a36b6" stroke-width="1.3"/><path d="M730.9 562.6 L726.9 567.1 L729.2 567.1 L726.6 570.4 L731.3 565.5 L729 565.5 L730.9 562.6 Z" fill="#a33fc2" stroke="#a33fc2" stroke-width="0.7" stroke-linejoin="round"/><rect x="733.4" y="560.4" width="12.1" height="11.8" rx="1.6" fill="#0b0a0c" stroke="#dc00fc" stroke-width="1.4"/><text x="737.4" y="570.2" class="ic" fill="#c400e4" textLength="4.3" lengthAdjust="spacingAndGlyphs">E</text>
<g fill="#e8e8e8"><path d="M6.9 602.1 H11.9 V609 H9.3 V604.7 H6.9 Z"/><circle cx="14.4" cy="603.7" r="1.3"/><path d="M16.6 602.1 H20.1 L18.4 609 H14.8 Z"/></g><text x="22.5" y="609" class="tv" textLength="48" lengthAdjust="spacingAndGlyphs">TradingView</text>
</svg>
</body></html>
